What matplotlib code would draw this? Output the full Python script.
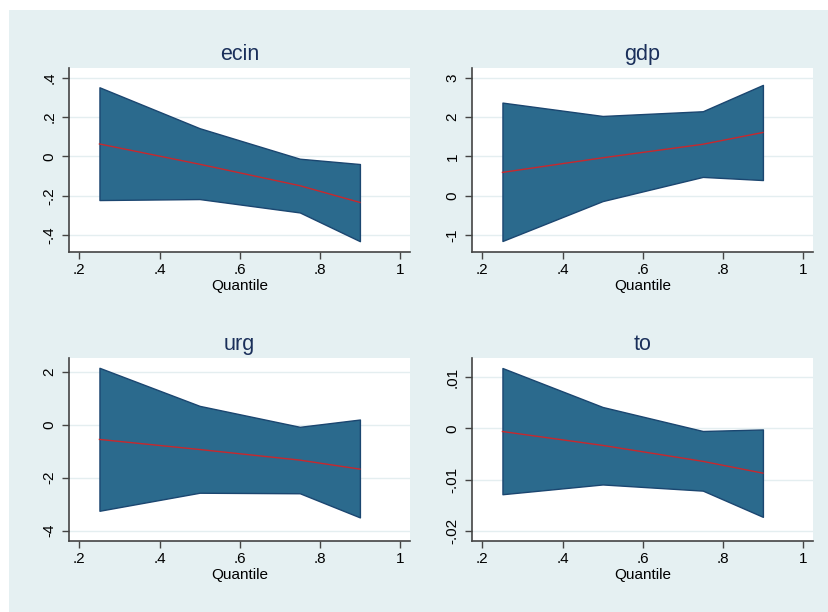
import matplotlib.pyplot as plt
from matplotlib.patches import Rectangle
from matplotlib.ticker import FuncFormatter

plt.rcParams['font.family'] = ['Liberation Sans', 'DejaVu Sans']

# quantiles estimated
quantiles = [0.25, 0.5, 0.75, 0.9]

names = ["ecin", "gdp", "urg", "to"]

ecin_coef = [0.063, -0.040, -0.149, -0.234]
ecin_upper = [0.351, 0.143, -0.012, -0.039]
ecin_lower = [-0.222, -0.217, -0.285, -0.431]

gdp_coef = [0.595, 0.966, 1.31, 1.61]
gdp_upper = [2.37, 2.03, 2.15, 2.82]
gdp_lower = [-1.15, -0.135, 0.48, 0.40]

urg_coef = [-0.56, -0.94, -1.34, -1.68]
urg_upper = [2.14, 0.705, -0.085, 0.19]
urg_lower = [-3.25, -2.57, -2.59, -3.50]

to_coef = [-0.0006, -0.0033, -0.0064, -0.0087]
to_upper = [0.01175, 0.00417, -0.0005, -0.0002]
to_lower = [-0.0128, -0.0109, -0.0121, -0.0172]

x_ticks = [0.2, 0.4, 0.6, 0.8, 1.0]
ecin_ticks = [-0.4, -0.2, 0, 0.2, 0.4]
gdp_ticks = [-1, 0, 1, 2, 3]
urg_ticks = [-4, -2, 0, 2]
to_ticks = [-0.02, -0.01, 0, 0.01]

coefs = [ecin_coef, gdp_coef, urg_coef, to_coef]
uppers = [ecin_upper, gdp_upper, urg_upper, to_upper]
lowers = [ecin_lower, gdp_lower, urg_lower, to_lower]
yticks = [ecin_ticks, gdp_ticks, urg_ticks, to_ticks]
ylims = [(-0.486, 0.449), (-1.43, 3.25), (-4.39, 2.51), (-0.0219, 0.0137)]


def stata_fmt(v, pos):
    s = ("%g" % round(v, 6))
    if s.startswith("0."):
        s = s[1:]
    elif s.startswith("-0."):
        s = "-" + s[2:]
    return s


W, H = 829, 612
fig = plt.figure(figsize=(W / 100, H / 100), dpi=100)
fig.patch.set_facecolor("white")
# stata style background, white strip top and left
fig.patches.append(Rectangle((9 / W, 0), 1, 1 - 10 / H, transform=fig.transFigure,
                             facecolor="#E5F0F2", edgecolor="none", zorder=-10))

# boxes in pixels: left, top, right, bottom
boxes = [(69, 68, 410, 252), (472, 68, 813, 252),
         (69, 358, 410, 541), (472, 358, 813, 541)]

for i in range(4):
    l, t, r, b = boxes[i]
    ax = fig.add_axes([l / W, 1 - b / H, (r - l) / W, (b - t) / H])
    ax.set_facecolor("white")
    ax.fill_between(quantiles, lowers[i], uppers[i], facecolor="#2B6A8D",
                    edgecolor="#1B4670", linewidth=1.0, zorder=2)
    ax.plot(quantiles, coefs[i], color="#C8282D", linewidth=1.0, zorder=3)
    ax.set_xlim(0.174, 1.025)
    ax.set_ylim(*ylims[i])
    ax.set_xticks(x_ticks)
    ax.set_yticks(yticks[i])
    ax.xaxis.set_major_formatter(FuncFormatter(stata_fmt))
    ax.yaxis.set_major_formatter(FuncFormatter(stata_fmt))
    ax.grid(axis="y", color="#E4EEF0", linewidth=1.0, zorder=1)
    ax.set_axisbelow(True)
    for s in ["top", "right"]:
        ax.spines[s].set_visible(False)
    for s in ["left", "bottom"]:
        ax.spines[s].set_color("#444444")
        ax.spines[s].set_linewidth(1.2)
    ax.tick_params(direction="out", length=5, width=1.0, color="#444444",
                   labelsize=11, pad=3)
    ax.tick_params(axis="y", pad=4)
    for lab in ax.get_yticklabels():
        lab.set_rotation(90)
        lab.set_va("center")
    ax.set_xlabel("Quantile", fontsize=11, labelpad=1.5)
    ax.set_title(names[i], fontsize=15.5, color="#1A2F5A", pad=6)

fig.savefig("out.png", dpi=100)
